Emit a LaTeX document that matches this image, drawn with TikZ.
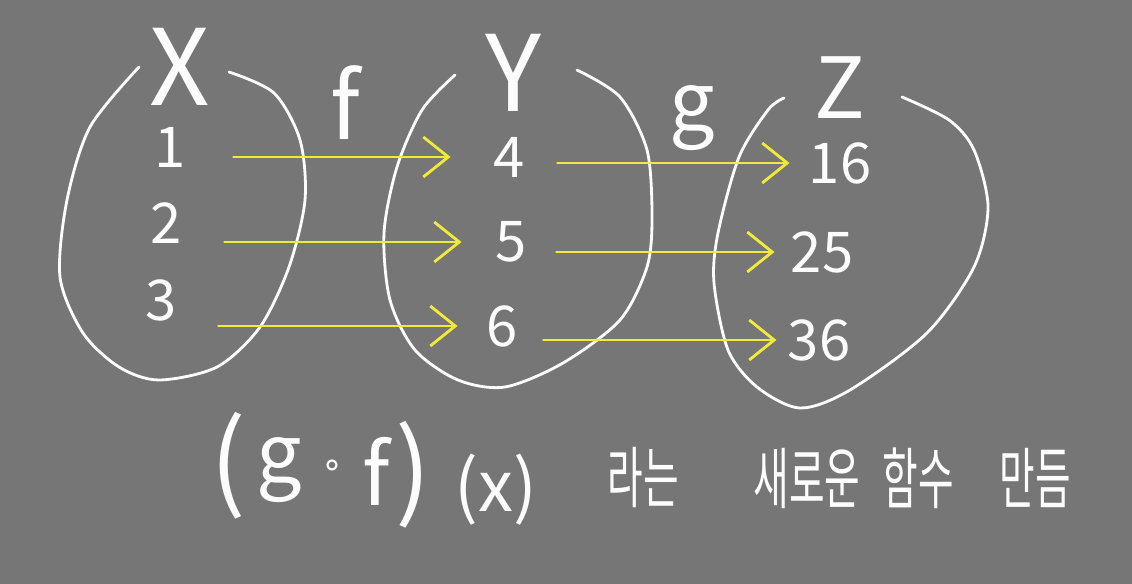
\documentclass[tikz,border=0pt]{standalone}
\usepackage{fontspec}
\usepackage{graphicx}
\setmainfont{Noto Sans CJK KR}
\newfontfamily\symfont{DejaVu Sans}
\usetikzlibrary{arrows.meta}
\definecolor{board}{RGB}{118,118,118}
\definecolor{chalk}{RGB}{252,252,252}
\definecolor{marker}{RGB}{240,234,60}
\newcommand{\narrow}[1]{\scalebox{0.58}[1]{#1}}
\tikzset{
  chalktext/.style={text=chalk, inner sep=0pt, font=\fontsize{#1}{#1}\selectfont},
  elem/.style={chalktext=32},
  setline/.style={draw=chalk, line width=1.6pt, line cap=round, line join=round},
  mapsto/.style={draw=marker, line width=1.6pt, line cap=round, -{Straight Barb[length=5mm,width=8mm]}}
}

\begin{document}
\begin{tikzpicture}[x=0.02cm, y=-0.02cm]
\fill [board] (0,0) rectangle (1132,584);
\draw [setline] plot [smooth] coordinates {(139,67) (90,127) (67,200) (60,277) (83,333) (119,367) (159,380) (217,367) (260,327) (289,267) (305,200) (300,140) (274,93) (229,72)};
\draw [setline] plot [smooth] coordinates {(455,75) (422,110) (397,167) (384,233) (390,300) (415,350) (458,380) (505,387) (563,363) (620,320) (647,267) (652,217) (647,150) (620,97) (577,70)};
\draw [setline] plot [smooth] coordinates {(784,98) (768,110) (739,157) (718,233) (714,283) (728,350) (757,387) (800,408) (850,390) (927,333) (974,267) (988,207) (974,150) (949,120) (902,97)};
\node [chalktext=60] (setX) at (180,67) {X};
\node [chalktext=60] (setY) at (513,73) {Y};
\node [chalktext=48] (setZ) at (840,88) {Z};
\node [chalktext=52] (mapf) at (345,103) {f};
\node [chalktext=46] (mapg) at (692,118) {g};
\node [elem] (x1) at (170,147) {1};
\node [elem] (x2) at (166,223) {2};
\node [elem] (x3) at (161,300) {3};
\node [elem] (y4) at (509,157) {4};
\node [elem] (y5) at (511,242) {5};
\node [elem] (y6) at (502,326) {6};
\node [elem] (z16) at (840,163) {16};
\node [elem] (z25) at (822,252) {25};
\node [elem] (z36) at (819,340) {36};
\foreach \a/\b/\s/\e in {x1/y4/0.95/0.85, x2/y5/0.85/0.67, x3/y6/0.83/0.57, y4/z16/0.65/0.38, y5/z25/0.59/0.32, y6/z36/0.51/0.22}
\draw [mapsto, shorten <=\s cm, shorten >=\e cm] (\a.east |- \b.west) -- (\b.west);
\node [chalktext=60] (lpar) at (228,466) {(};
\node [chalktext=46] (compg) at (279,470) {g};
\node [chalktext=20] (ring) at (332,468) {\symfont ∘};
\node [chalktext=48] (compf) at (376,471) {f};
\node [chalktext=60] (rpar) at (413,475) {)};
\node [chalktext=40] (argx) at (496,490) {(x)};
\node [chalktext=38] (rane) at (643,478) {\narrow{라는}};
\node [chalktext=38] (saero) at (807,478) {\narrow{새로운}};
\node [chalktext=38] (hamsu) at (918,478) {\narrow{함수}};
\node [chalktext=38] (mandeum) at (1035,478) {\narrow{만듬}};
\end{tikzpicture}
\end{document}
